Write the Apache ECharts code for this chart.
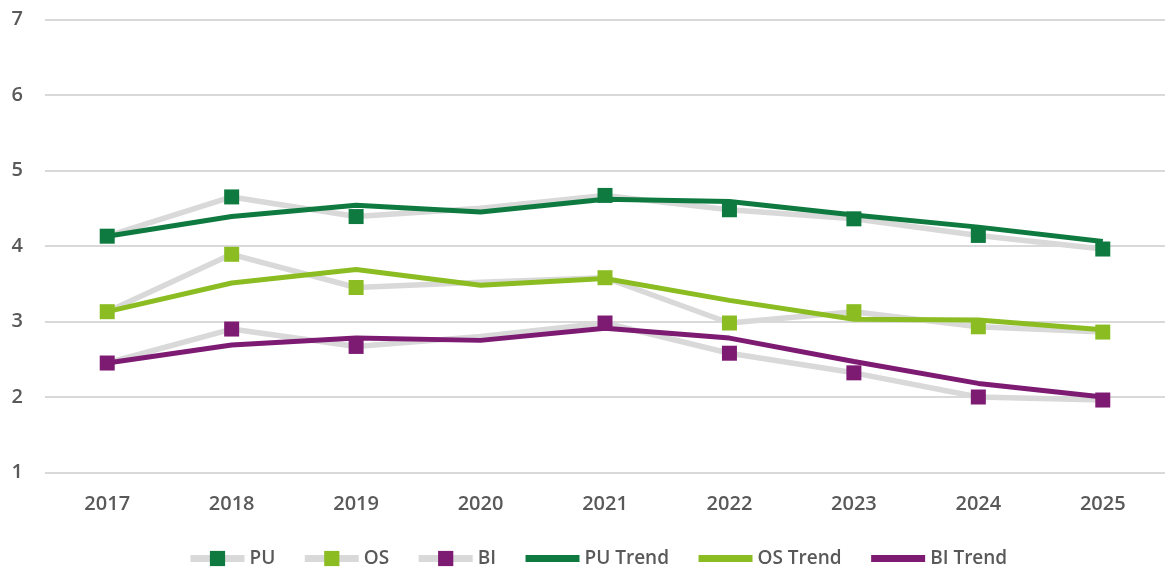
<!DOCTYPE html>
<html>
<head>
<meta charset="utf-8">
<script src="https://cdn.jsdelivr.net/npm/echarts@6/dist/echarts.min.js"></script>
<style>
  html, body { margin: 0; padding: 0; background: #fff; }
  #chart { width: 1165px; height: 567px; }
</style>
</head>
<body>
<div id="chart"></div>
<script>
// categories (years)
var years = ['2017', '2018', '2019', '2020', '2021', '2022', '2023', '2024', '2025'];
var yTicks = [1, 2, 3, 4, 5, 6, 7];

// observed values (2020 has no marker)
var puData = [4.13, 4.65, 4.39, 4.50, 4.67, 4.48, 4.36, 4.14, 3.96];
var osData = [3.13, 3.89, 3.45, 3.52, 3.58, 2.98, 3.13, 2.93, 2.86];
var biData = [2.45, 2.90, 2.67, 2.80, 2.98, 2.58, 2.32, 2.00, 1.96];

// trend values
var puTrend = [4.13, 4.39, 4.54, 4.45, 4.62, 4.59, 4.41, 4.25, 4.06];
var osTrend = [3.13, 3.51, 3.69, 3.48, 3.57, 3.28, 3.03, 3.02, 2.89];
var biTrend = [2.45, 2.69, 2.78, 2.75, 2.91, 2.78, 2.47, 2.18, 2.00];

var noMarkerYear = '2020';

var colPU = '#0e7a40';
var colOS = '#8bbd23';
var colBI = '#7d1a72';
var gray = '#d9d9d9';
var txt = '#595959';
var font = 'Open Sans';

var chart = echarts.init(document.getElementById('chart'));

// drop the marker on the year without one
function withGap(arr) {
    return arr.map(function (v, i) {
        if (years[i] === noMarkerYear) {
            return { value: v, symbolSize: 0 };
        }
        return v;
    });
}

function markerSeries(name, data, color) {
    return {
        name: name,
        type: 'line',
        data: withGap(data),
        symbol: 'rect',
        symbolSize: 15,
        showAllSymbol: true,
        lineStyle: { color: gray, width: 5.5 },
        itemStyle: { color: color, borderWidth: 0 },
        z: 2
    };
}

function trendSeries(name, data, color) {
    return {
        name: name,
        type: 'line',
        data: data,
        symbol: 'none',
        lineStyle: { color: color, width: 5 },
        itemStyle: { color: color },
        z: 3
    };
}

var option = {
    animation: false,
    textStyle: { fontFamily: font },
    grid: {
        left: 45,
        right: -5,
        top: 19.5,
        bottom: 94.5,
        containLabel: false
    },
    legend: {
        top: 544,
        left: 182,
        itemWidth: 54,
        itemHeight: 19,
        itemGap: 26,
        textStyle: { color: txt, fontSize: 19, fontWeight: 600, fontFamily: font },
        data: [
            { name: 'PU', lineStyle: { width: 7 } },
            { name: 'OS', lineStyle: { width: 7 } },
            { name: 'BI', lineStyle: { width: 7 } },
            { name: 'PU Trend', lineStyle: { width: 7 }, itemStyle: { opacity: 0 } },
            { name: 'OS Trend', lineStyle: { width: 7 }, itemStyle: { opacity: 0 } },
            { name: 'BI Trend', lineStyle: { width: 7 }, itemStyle: { opacity: 0 } }
        ]
    },
    xAxis: {
        type: 'category',
        data: years,
        boundaryGap: true,
        axisLine: { show: false },
        axisTick: { show: false },
        axisLabel: { color: txt, fontSize: 20, fontWeight: 600, margin: 22, fontFamily: font }
    },
    yAxis: {
        type: 'value',
        min: yTicks[0],
        max: yTicks[yTicks.length - 1],
        interval: 1,
        axisLine: { show: false },
        axisTick: { show: false },
        axisLabel: { color: txt, fontSize: 20, fontWeight: 600, margin: 22, fontFamily: font },
        splitLine: { lineStyle: { color: '#d9d9d9', width: 2 } }
    },
    series: [
        markerSeries('PU', puData, colPU),
        markerSeries('OS', osData, colOS),
        markerSeries('BI', biData, colBI),
        trendSeries('PU Trend', puTrend, colPU),
        trendSeries('OS Trend', osTrend, colOS),
        trendSeries('BI Trend', biTrend, colBI)
    ]
};

chart.setOption(option);
</script>
</body>
</html>
